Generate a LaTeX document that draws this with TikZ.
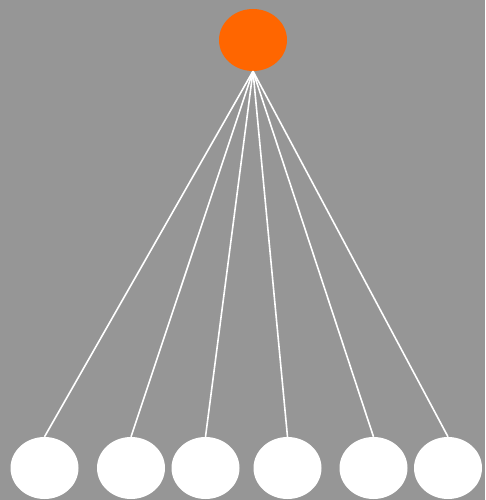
\documentclass[tikz,border=0pt]{standalone}
\usetikzlibrary{shapes.geometric}
\definecolor{bg}{HTML}{969696}
\definecolor{topc}{HTML}{FF6600}
\begin{document}
\begin{tikzpicture}[x=1pt,y=-1pt,
  ball/.style={ellipse,minimum width=68pt,minimum height=62pt,inner sep=0pt,draw=none},
  link/.style={draw=white,line width=1.6pt}]
\fill[bg] (0,0) rectangle (485,500);
\useasboundingbox (0,0) rectangle (485,500);
\node[ball,fill=topc] (top) at (253,40) {};
\node[ball,fill=white] (b1) at (44.5,468) {};
\node[ball,fill=white] (b2) at (131,468) {};
\node[ball,fill=white] (b3) at (205.5,468) {};
\node[ball,fill=white] (b4) at (287.5,468) {};
\node[ball,fill=white] (b5) at (373.5,468) {};
\node[ball,fill=white] (b6) at (448,468) {};
\foreach \b in {b1,b2,b3,b4,b5,b6}{
  \draw[link] (top.south) -- (\b.north);
}
\end{tikzpicture}
\end{document}
